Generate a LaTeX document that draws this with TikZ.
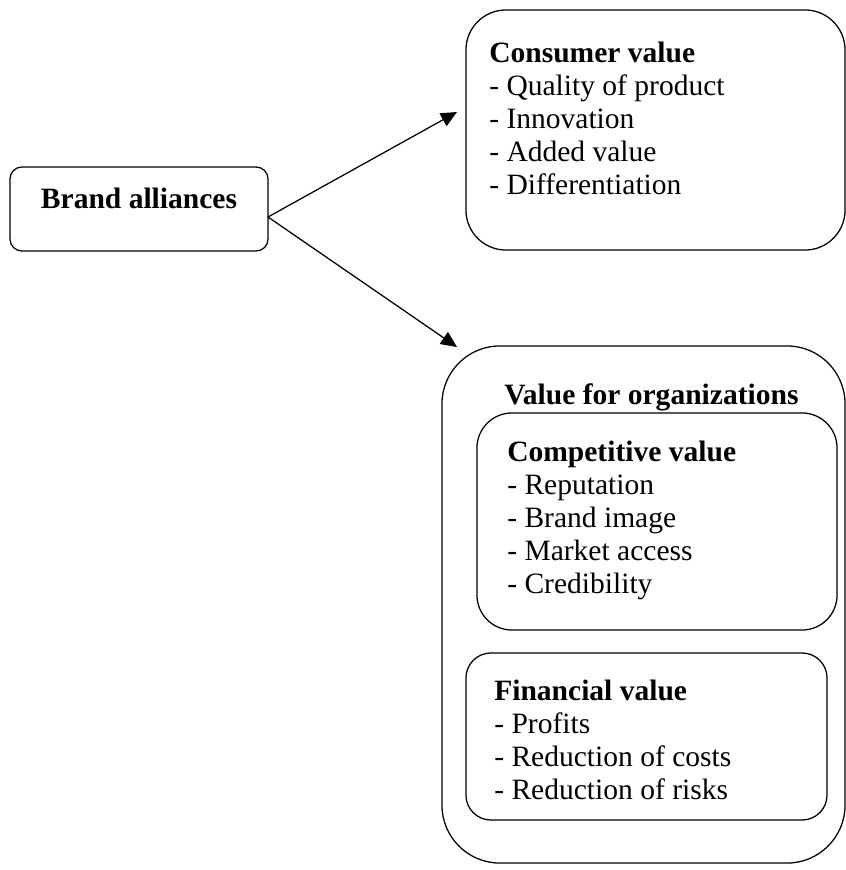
\documentclass[tikz,border=0pt]{standalone}
\usepackage{fontspec}
\setmainfont{Liberation Serif}
\usetikzlibrary{arrows.meta}

\tikzset{
  valuebox/.style={draw, line width=0.9pt, inner sep=0pt},
  valuetext/.style={anchor=north west, inner sep=0pt, align=left,
    font=\fontsize{21}{23.5}\selectfont},
  link/.style={line width=0.9pt, -{Triangle[length=0.4cm, width=0.36cm]}}
}

\begin{document}
\begin{tikzpicture}[x=0.025cm, y=-0.025cm]
  \useasboundingbox (0,0) rectangle (846,870);
  %\draw[help lines, step=50] (0,0) grid (846,870);

  % boxes
  \node [valuebox, rounded corners=0.3cm, minimum width=6.45cm, minimum height=2.1cm] (brand) at (139,209) {};
  \node [valuebox, rounded corners=1cm, minimum width=9.475cm, minimum height=6cm] (consumer) at (655.5,130) {};
  \node [valuebox, rounded corners=1.45cm, minimum width=10.075cm, minimum height=12.925cm] (orgs) at (643.5,604.5) {};
  \node [valuebox, rounded corners=0.875cm, minimum width=9cm, minimum height=5.425cm] (competitive) at (657,521.5) {};
  \node [valuebox, rounded corners=0.625cm, minimum width=9.025cm, minimum height=4.175cm] (financial) at (646.5,736.5) {};

  % texts
  \node [anchor=base, inner sep=0pt, font=\fontsize{21}{23.5}\selectfont\bfseries] (brandtext) at (139,208) {Brand alliances};
  \node [valuetext] (consumertext) at (489,42) {\textbf{Consumer value}\\- Quality of product\\- Innovation\\- Added value\\- Differentiation};
  \node [valuetext] (orgstext) at (504,383) {\textbf{Value for organizations}};
  \node [valuetext] (competitivetext) at (507,441) {\textbf{Competitive value}\\- Reputation\\- Brand image\\- Market access\\- Credibility};
  \node [valuetext] (financialtext) at (494,680) {\textbf{Financial value}\\- Profits\\- Reduction of costs\\- Reduction of risks};

  % arrows
  \coordinate (fork) at (268,217);
  \coordinate (consumertip) at (457,112);
  \coordinate (orgstip) at (457,347);
  \draw [link] (fork) -- (consumertip);
  \draw [link] (fork) -- (orgstip);

\end{tikzpicture}
\end{document}
